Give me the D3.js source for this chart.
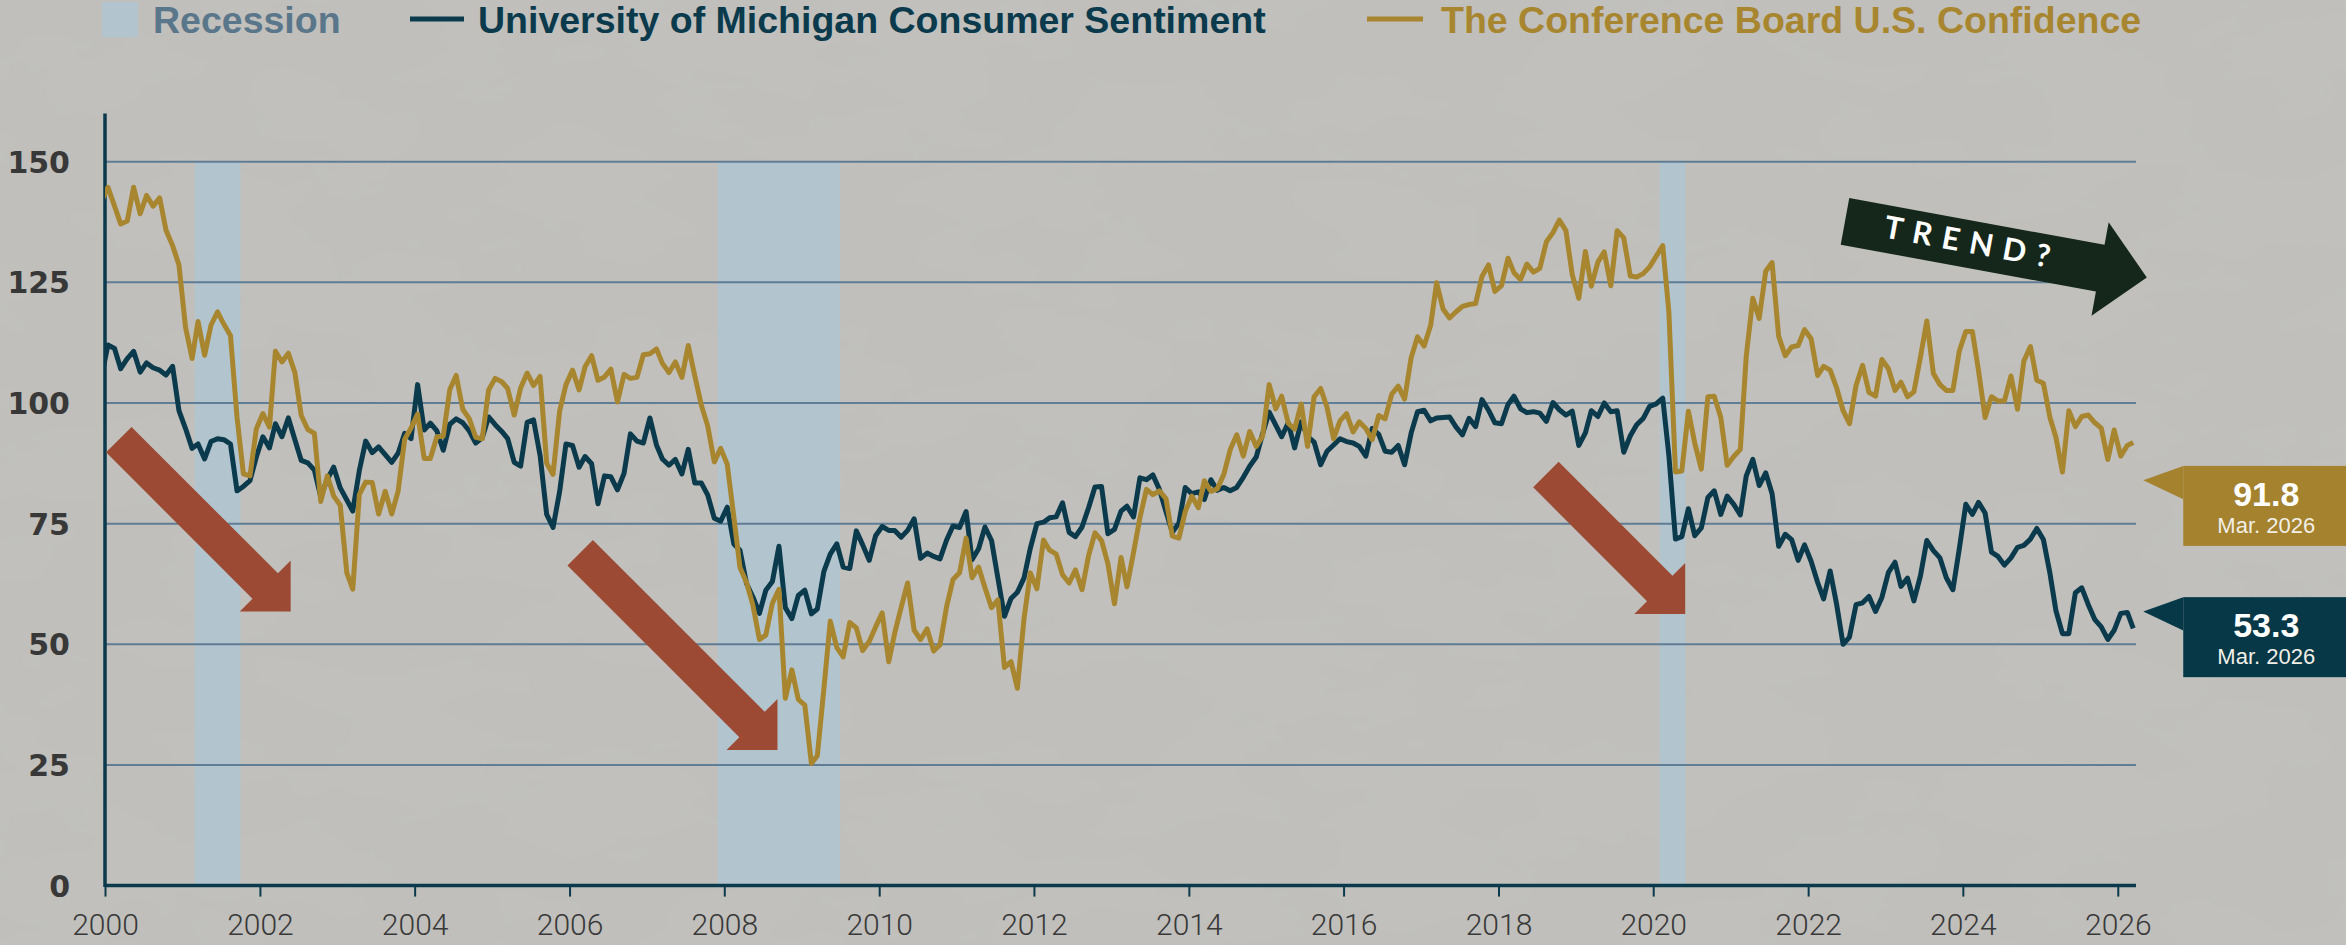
<!DOCTYPE html>
<html>
<head>
<meta charset="utf-8">
<script src="https://cdn.jsdelivr.net/npm/d3@7"></script>
<style>
  html, body { margin: 0; padding: 0; background: #c1c0bc; }
  svg { display: block; }
</style>
</head>
<body>
<svg id="chart" width="2346" height="945"></svg>
<script>
"use strict";

// monthly values, first one is Dec 1999
const firstMonth = [1999, 11]
const michigan = [
  105.4,
  112.0, 111.3, 107.1, 109.2, 110.7, 106.4, 108.3, 107.3, 106.8, 105.8, 107.6, 98.4,
  94.7, 90.6, 91.5, 88.4, 92.0, 92.6, 92.4, 91.5, 81.8, 82.7, 83.9, 88.8,
  93.0, 90.7, 95.7, 93.0, 96.9, 92.4, 88.1, 87.6, 86.1, 80.6, 84.2, 86.7,
  82.4, 79.9, 77.6, 86.0, 92.1, 89.7, 90.9, 89.3, 87.7, 89.6, 93.7, 92.6,
  103.8, 94.4, 95.8, 94.2, 90.2, 95.6, 96.7, 95.9, 94.2, 91.7, 92.8, 97.1,
  95.5, 94.1, 92.6, 87.7, 86.9, 96.0, 96.5, 89.1, 76.9, 74.2, 81.6, 91.5,
  91.2, 86.7, 88.9, 87.4, 79.1, 84.9, 84.7, 82.0, 85.4, 93.6, 92.1, 91.7,
  96.9, 91.3, 88.4, 87.1, 88.3, 85.3, 90.4, 83.4, 83.4, 80.9, 76.1, 75.5,
  78.4, 70.8, 69.5, 62.6, 59.8, 56.4, 61.2, 63.0, 70.3, 57.6, 55.3, 60.1,
  61.2, 56.3, 57.3, 65.1, 68.7, 70.8, 66.0, 65.7, 73.5, 70.6, 67.4, 72.5,
  74.4, 73.6, 73.6, 72.2, 73.6, 76.0, 67.8, 68.9, 68.2, 67.7, 71.6, 74.5,
  74.2, 77.5, 67.5, 69.8, 74.3, 71.5, 63.7, 55.8, 59.5, 60.8, 63.7, 69.9,
  75.0, 75.3, 76.2, 76.4, 79.3, 73.2, 72.3, 74.3, 78.3, 82.6, 82.7, 72.9,
  73.8, 77.6, 78.6, 76.4, 84.5, 84.1, 85.1, 82.1, 77.5, 73.2, 75.1, 82.5,
  81.2, 81.6, 80.0, 84.1, 81.9, 82.5, 81.8, 82.5, 84.6, 86.9, 88.8, 93.6,
  98.1, 95.4, 93.0, 95.9, 90.7, 96.1, 93.1, 91.9, 87.2, 90.0, 91.3, 92.6,
  92.0, 91.7, 91.0, 89.0, 94.7, 93.5, 90.0, 89.8, 91.2, 87.2, 93.8, 98.2,
  98.5, 96.3, 96.9, 97.0, 97.1, 95.0, 93.4, 96.8, 95.1, 100.7, 98.5, 95.9,
  95.7, 99.7, 101.4, 98.8, 98.0, 98.2, 97.9, 96.2, 100.1, 98.6, 97.5, 98.3,
  91.2, 93.8, 98.4, 97.2, 100.0, 98.2, 98.4, 89.8, 93.2, 95.5, 96.8, 99.3,
  99.8, 101.0, 89.1, 71.8, 72.3, 78.1, 72.5, 74.1, 80.4, 81.8, 76.9, 80.7,
  79.0, 76.8, 84.9, 88.3, 82.9, 85.5, 81.2, 70.3, 72.8, 71.7, 67.4, 70.6,
  67.2, 62.8, 59.4, 65.2, 58.4, 50.0, 51.5, 58.2, 58.6, 59.9, 56.8, 59.7,
  64.9, 67.0, 62.0, 63.7, 59.0, 64.2, 71.5, 69.4, 67.9, 63.8, 61.3, 69.7,
  79.0, 76.9, 79.4, 77.2, 69.1, 68.2, 66.4, 67.9, 70.1, 70.5, 71.8, 74.0,
  71.7, 64.7, 57.0, 52.2, 52.2, 60.7, 61.7, 58.2, 55.1, 53.6, 51.0, 52.9,
  56.4, 56.6, 53.3
]
const conference = [
  141.7,
  144.7, 140.8, 137.1, 137.7, 144.7, 139.2, 143.0, 140.8, 142.5, 135.8, 132.6, 128.6,
  115.7, 109.2, 116.9, 109.9, 116.1, 118.9, 116.3, 114.0, 97.0, 85.3, 84.9, 94.6,
  97.8, 95.0, 110.7, 108.5, 110.3, 106.3, 97.4, 94.5, 93.7, 79.6, 84.9, 80.7,
  78.8, 64.8, 61.4, 81.0, 83.6, 83.5, 77.0, 81.7, 77.0, 81.7, 92.5, 94.8,
  97.7, 88.5, 88.5, 93.0, 93.1, 102.8, 105.7, 98.7, 96.7, 92.9, 92.6, 102.7,
  105.1, 104.4, 103.0, 97.5, 103.1, 106.2, 103.6, 105.5, 87.5, 85.2, 98.3, 103.8,
  106.8, 102.7, 107.5, 109.8, 104.7, 105.4, 107.0, 100.2, 105.9, 105.1, 105.3, 110.0,
  110.2, 111.2, 108.2, 106.3, 108.5, 105.3, 111.9, 105.6, 99.5, 95.2, 87.8, 90.6,
  87.3, 76.4, 65.9, 62.8, 58.1, 51.0, 51.9, 58.5, 61.4, 38.8, 44.7, 38.6,
  37.4, 25.3, 26.9, 40.8, 54.8, 49.3, 47.4, 54.5, 53.4, 48.7, 50.6, 53.6,
  56.5, 46.4, 52.3, 57.7, 62.7, 52.9, 51.0, 53.2, 48.6, 49.9, 57.8, 63.4,
  64.8, 72.0, 63.8, 66.0, 61.7, 57.6, 59.2, 45.2, 46.4, 40.9, 55.2, 64.8,
  61.5, 71.6, 69.5, 68.7, 64.4, 62.7, 65.4, 61.3, 68.4, 73.1, 71.5, 66.7,
  58.4, 68.0, 61.9, 69.0, 76.2, 82.1, 81.0, 81.8, 80.2, 72.4, 72.0, 77.5,
  80.7, 78.3, 83.9, 81.7, 82.2, 85.2, 90.3, 93.4, 89.0, 94.1, 91.0, 93.1,
  103.8, 98.8, 101.4, 95.8, 94.6, 99.8, 91.0, 101.3, 103.0, 99.1, 92.6, 96.3,
  97.8, 94.0, 96.1, 94.7, 92.4, 97.4, 96.7, 101.8, 103.5, 100.8, 109.4, 113.7,
  111.8, 116.1, 124.9, 119.4, 117.6, 118.9, 120.0, 120.4, 120.6, 126.2, 128.6, 123.1,
  124.3, 130.0, 127.0, 125.6, 128.8, 127.1, 127.9, 133.4, 135.3, 137.9, 135.7, 126.6,
  121.7, 131.4, 124.2, 129.2, 131.3, 124.3, 135.7, 134.2, 126.3, 126.1, 126.8, 128.2,
  130.4, 132.6, 118.8, 85.7, 85.9, 98.3, 91.7, 86.3, 101.3, 101.4, 97.0, 87.1,
  88.9, 90.4, 109.7, 121.7, 117.5, 127.3, 129.1, 113.8, 109.8, 111.6, 111.9, 115.2,
  113.3, 105.7, 107.6, 106.8, 103.2, 98.4, 95.7, 103.6, 107.8, 102.2, 101.4, 109.0,
  107.1, 102.6, 104.3, 101.3, 102.3, 109.5, 117.0, 106.1, 103.8, 102.6, 102.6, 110.7,
  114.8, 114.8, 106.7, 97.0, 101.3, 100.4, 100.4, 105.6, 98.7, 108.7, 111.7, 104.7,
  104.1, 97.0, 92.9, 85.7, 98.4, 95.1, 97.2, 97.5, 95.9, 94.8, 88.3, 94.4,
  89.0, 91.2, 91.8
]

const recessions = [
  ["2001-03-01", "2001-10-01"],
  ["2007-12-01", "2009-06-30"],
  ["2020-02-01", "2020-06-01"]
]
const yTicks = [0, 25, 50, 75, 100, 125, 150]
const xTickYears = d3.range(2000, 2027, 2)

// annotations, anchored in data space: tip date and value
const downArrows = [
  {tip: "2002-05-26", value: 56.8, len: 243},
  {tip: "2008-09-08", value: 28.1, len: 279},
  {tip: "2020-05-31", value: 56.3, len: 197}
]
const trendArrow = {tip: "2026-05-18", value: 126.0, text: "TREND?"}
const endLabels = [
  {series: "conference", at: 84.0, caption: "Mar. 2026"},
  {series: "michigan", at: 56.8, caption: "Mar. 2026"}
]

const colors = {
  bg: "#c1c0bc",
  michigan: "#0a3a4c",
  conference: "#a8862f",
  band: "#b2c5cf",
  grid: "#5f7d95",
  axis: "#0b3a4c",
  red: "#9d4a35",
  trend: "#15271b",
  text: "#383838"
}

const W = 2346, H = 945
const svg = d3.select("#chart")

let parse = d3.timeParse("%Y-%m-%d")
let monthDate = i => new Date(firstMonth[0], firstMonth[1] + i, 15)

let x = d3.scaleTime()
  .domain([new Date(2000, 0, 1), new Date(2026, 2, 28)])
  .range([105, 2136])
let y = d3.scaleLinear()
  .domain([0, 160])
  .range([885.6, 113.4])

let series = {
  michigan: michigan.map((v, i) => ({date: monthDate(i), value: v})),
  conference: conference.map((v, i) => ({date: monthDate(i), value: v}))
}

// background with a light paper grain
let defs = svg.append("defs")
let grain = defs.append("filter").attr("id", "grain")
  .attr("x", 0).attr("y", 0).attr("width", "100%").attr("height", "100%")
grain.append("feTurbulence")
  .attr("type", "fractalNoise")
  .attr("baseFrequency", "0.006 0.012")
  .attr("numOctaves", 4)
  .attr("seed", 7)
grain.append("feColorMatrix")
  .attr("type", "matrix")
  .attr("values", "0 0 0 0 0.45  0 0 0 0 0.45  0 0 0 0 0.43  0.16 0 0 0 -0.04")
defs.append("clipPath").attr("id", "plot-clip")
  .append("rect")
  .attr("x", x.range()[0]).attr("y", 0)
  .attr("width", x.range()[1] - x.range()[0]).attr("height", H)

svg.append("rect").attr("width", W).attr("height", H).attr("fill", colors.bg)
svg.append("rect").attr("width", W).attr("height", H).attr("filter", "url(#grain)")

// recession bands
svg.append("g").selectAll("rect").data(recessions).enter()
  .append("rect")
  .attr("x", d => x(parse(d[0])))
  .attr("width", d => x(parse(d[1])) - x(parse(d[0])))
  .attr("y", y(150))
  .attr("height", y(0) - y(150))
  .attr("fill", colors.band)

// gridlines
svg.append("g").selectAll("line").data(yTicks.filter(d => d > 0)).enter()
  .append("line")
  .attr("x1", x.range()[0]).attr("x2", x.range()[1])
  .attr("y1", d => y(d)).attr("y2", d => y(d))
  .attr("stroke", colors.grid)
  .attr("stroke-width", 2)

// y labels
svg.append("g").selectAll("text").data(yTicks).enter()
  .append("text")
  .attr("x", 70)
  .attr("y", d => y(d) + 11)
  .attr("text-anchor", "end")
  .attr("font-family", "DejaVu Sans")
  .attr("font-weight", "bold")
  .attr("font-size", 30)
  .attr("fill", colors.text)
  .text(d => d)

// x axis
let xAxis = d3.axisBottom(x)
  .tickValues(xTickYears.map(yr => new Date(yr, 0, 1)))
  .tickFormat(d3.timeFormat("%Y"))
  .tickSize(11)
  .tickPadding(20)
let xg = svg.append("g")
  .attr("transform", "translate(0," + y(0) + ")")
  .call(xAxis)
xg.select(".domain").attr("stroke", colors.axis).attr("stroke-width", 3.5)
  .attr("d", "M" + x.range()[0] + ",0H" + x.range()[1])
xg.selectAll(".tick line").attr("stroke", colors.axis).attr("stroke-width", 2)
xg.selectAll(".tick text")
  .attr("y", 49)
  .attr("dy", null)
  .attr("font-family", "Roboto")
  .attr("font-weight", 300)
  .attr("font-size", 30)
  .attr("fill", colors.text)

// y axis line
svg.append("line")
  .attr("x1", x.range()[0]).attr("x2", x.range()[0])
  .attr("y1", y(160)).attr("y2", y(0) + 1.5)
  .attr("stroke", colors.axis)
  .attr("stroke-width", 3.5)

// series lines
let line = d3.line()
  .x(d => x(d.date))
  .y(d => y(d.value))
let linesG = svg.append("g").attr("clip-path", "url(#plot-clip)")
;["michigan", "conference"].forEach(key => {
  linesG.append("path")
    .datum(series[key])
    .attr("d", line)
    .attr("fill", "none")
    .attr("stroke", colors[key])
    .attr("stroke-width", 5)
    .attr("stroke-linejoin", "round")
})

// red down arrows, drawn in a frame where +u points down-right
let arrowPoints = len => {
  let pts = [[0, 0], [-36, 36], [-36, 18], [-len, 18], [-len, -18], [-36, -18], [-36, -36]]
  let s = Math.SQRT1_2
  return pts.map(p => [(p[0] - p[1]) * s, (p[0] + p[1]) * s])
}
svg.append("g").selectAll("polygon").data(downArrows).enter()
  .append("polygon")
  .attr("transform", d => "translate(" + x(parse(d.tip)) + "," + y(d.value) + ")")
  .attr("points", d => arrowPoints(d.len).map(p => p.join(",")).join(" "))
  .attr("fill", colors.red)

// trend arrow
let tg = svg.append("g")
  .attr("transform", "translate(" + x(parse(trendArrow.tip)) + "," + y(trendArrow.value) + ") rotate(10.4)")
tg.append("polygon")
  .attr("points", [[0, 0], [-47.5, -47.5], [-47.5, -24.5], [-307, -24.5], [-307, 23], [-47.5, 23], [-47.5, 47.5]]
    .map(p => p.join(",")).join(" "))
  .attr("fill", colors.trend)
tg.append("text")
  .attr("x", -178)
  .attr("y", 8)
  .attr("text-anchor", "middle")
  .attr("font-family", "Lato")
  .attr("font-weight", "bold")
  .attr("font-size", 31)
  .attr("letter-spacing", 10)
  .attr("fill", "white")
  .text(trendArrow.text)

// end value labels
let lastDate = series.michigan[series.michigan.length - 1].date
let labelG = svg.append("g").selectAll("g").data(endLabels).enter()
  .append("g")
  .attr("transform", d => "translate(" + (x(lastDate) + 10) + "," + y(d.at) + ")")
labelG.append("polygon")
  .attr("points", "0,0 40,-14.3 40,19")
  .attr("fill", d => d.series == "conference" ? "#a5822e" : "#063848")
labelG.append("rect")
  .attr("x", 40).attr("y", -14.3)
  .attr("width", W).attr("height", 80)
  .attr("fill", d => d.series == "conference" ? "#a5822e" : "#063848")
labelG.append("text")
  .attr("x", 123).attr("y", 25.5)
  .attr("text-anchor", "middle")
  .attr("font-family", "Liberation Sans")
  .attr("font-weight", "bold")
  .attr("font-size", 34)
  .attr("fill", "white")
  .text(d => d3.format(".1f")(series[d.series][series[d.series].length - 1].value))
labelG.append("text")
  .attr("x", 123).attr("y", 53)
  .attr("text-anchor", "middle")
  .attr("font-family", "Liberation Sans")
  .attr("font-size", 22)
  .attr("fill", "#f2efe6")
  .text(d => d.caption)

// legend
let legend = svg.append("g").attr("font-family", "Liberation Sans").attr("font-weight", "bold").attr("font-size", 37.5)
legend.append("rect")
  .attr("x", 102).attr("y", 2).attr("width", 36).attr("height", 35)
  .attr("fill", colors.band)
legend.append("text").attr("x", 153).attr("y", 33).attr("fill", "#5a768a").text("Recession")
legend.append("line").attr("x1", 410).attr("x2", 464).attr("y1", 19).attr("y2", 19)
  .attr("stroke", colors.michigan).attr("stroke-width", 5)
legend.append("text").attr("x", 478).attr("y", 33).attr("fill", colors.michigan)
  .text("University of Michigan Consumer Sentiment")
legend.append("line").attr("x1", 1367).attr("x2", 1423).attr("y1", 19).attr("y2", 19)
  .attr("stroke", colors.conference).attr("stroke-width", 5)
legend.append("text").attr("x", 1441).attr("y", 33).attr("fill", colors.conference)
  .text("The Conference Board U.S. Confidence")
</script>
</body>
</html>
